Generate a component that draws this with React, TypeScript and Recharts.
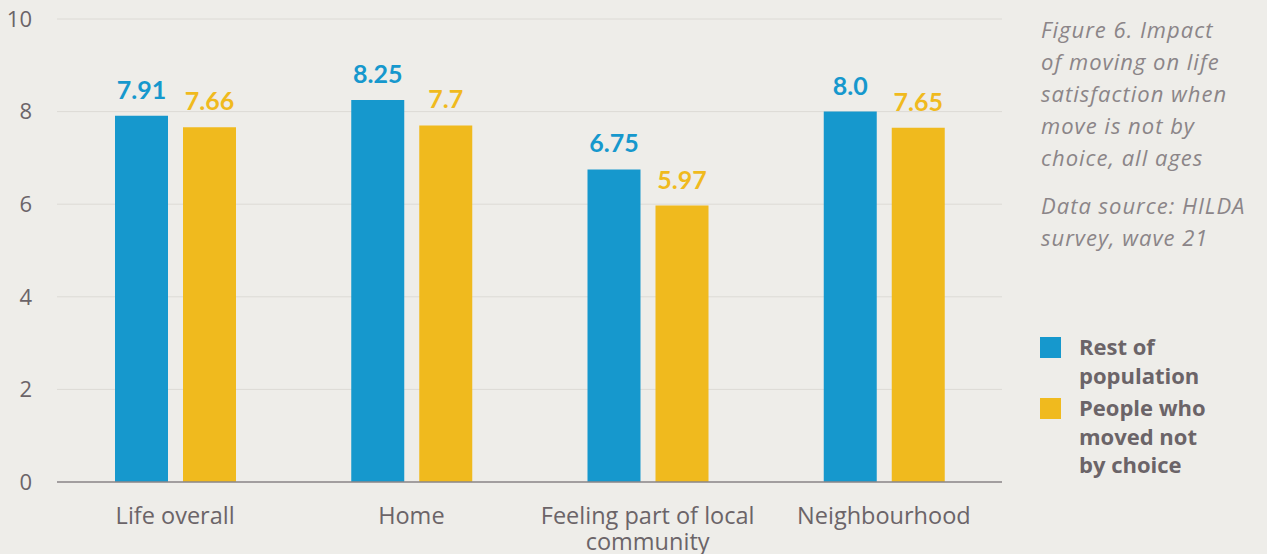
import React from "react";
import { BarChart, Bar, XAxis, YAxis, CartesianGrid, LabelList, Text } from "recharts";

const categories = ["Life overall", "Home", "Feeling part of local community", "Neighbourhood"];
const restOfPopulation = [7.91, 8.25, 6.75, 8.0];
const movedNotByChoice = [7.66, 7.7, 5.97, 7.65];
const restLabels = ["7.91", "8.25", "6.75", "8.0"];
const movedLabels = ["7.66", "7.7", "5.97", "7.65"];
const yTicks = [0, 2, 4, 6, 8, 10];
const seriesNames = ["Rest of population", "People who moved not by choice"];
const legendLines = [["Rest of", "population"], ["People who", "moved not", "by choice"]];
const captionParas = [
  ["Figure 6. Impact", "of moving on life", "satisfaction when", "move is not by", "choice, all ages"],
  ["Data source: HILDA", "survey, wave 21"],
];

const BLUE = "#1698cd";
const YELLOW = "#f0ba1e";
const TEXT = "#6b6468";
const FONT = "'Open Sans', Lato, sans-serif";
const LFONT = "Lato, sans-serif";

const data = categories.map((c, i) => ({
  name: c,
  rest: restOfPopulation[i],
  moved: movedNotByChoice[i],
  restLabel: restLabels[i],
  movedLabel: movedLabels[i],
}));

const XTick = (props: any) => {
  const { x, y, payload } = props;
  return (
    <Text
      x={x}
      y={y}
      width={232}
      textAnchor="middle"
      verticalAnchor="start"
      lineHeight={26}
      fill={TEXT}
      fontSize={23.5}
      fontFamily={FONT}
      style={{ fontSize: 23.5, fontFamily: FONT }}
    >
      {payload.value}
    </Text>
  );
};

const LegendBlock = () => (
  <div
    style={{
      position: "absolute",
      left: 1040,
      top: 337,
      width: 227,
      fontFamily: FONT,
      fontWeight: 700,
      fontSize: 22,
      color: TEXT,
    }}
  >
    {legendLines.map((lines, i) => (
      <div key={i} style={{ display: "flex", alignItems: "flex-start", marginBottom: 9 }}>
        <div
          style={{
            width: 21,
            height: 21,
            background: i === 0 ? BLUE : YELLOW,
            marginRight: 18,
            flexShrink: 0,
          }}
        />
        <div style={{ lineHeight: "28.5px", marginTop: -5 }}>
          {lines.map((l, j) => (
            <div key={j} title={j === 0 ? seriesNames[i] : undefined} style={{ whiteSpace: "nowrap" }}>{l}</div>
          ))}
        </div>
      </div>
    ))}
  </div>
);

export default function App() {
  return (
    <div
      style={{
        position: "absolute",
        left: 0,
        top: 0,
        width: 1267,
        height: 554,
        background: "#eeede9",
        overflow: "hidden",
      }}
    >
      <BarChart
        width={1267}
        height={554}
        data={data}
        margin={{ top: 19, right: 265, bottom: 0, left: 0 }}
        barSize={53}
        barGap={15}
      >
        <CartesianGrid vertical={false} stroke="#dcdad5" strokeWidth={1} />
        <XAxis
          dataKey="name"
          height={72}
          axisLine={{ stroke: "#8b878a", strokeWidth: 1.7 }}
          tickLine={false}
          tickMargin={19}
          interval={0}
          tick={<XTick />}
        />
        <YAxis
          width={57}
          domain={[0, 10]}
          ticks={yTicks}
          axisLine={false}
          tickLine={false}
          tickSize={0}
          tickMargin={25}
          tick={{ fill: TEXT, fontSize: 22, fontFamily: FONT }}
        />
        <Bar dataKey="rest" name={seriesNames[0]} fill={BLUE} isAnimationActive={false}>
          <LabelList
            dataKey="restLabel"
            position="top"
            offset={17}
            fill={BLUE}
            fontSize={25}
            fontWeight={700}
            fontFamily={LFONT}
          />
        </Bar>
        <Bar dataKey="moved" name={seriesNames[1]} fill={YELLOW} isAnimationActive={false}>
          <LabelList
            dataKey="movedLabel"
            position="top"
            offset={17}
            fill={YELLOW}
            fontSize={25}
            fontWeight={700}
            fontFamily={LFONT}
          />
        </Bar>
      </BarChart>
      <LegendBlock />
      <div
        style={{
          position: "absolute",
          left: 1041,
          top: 13,
          width: 226,
          fontFamily: FONT,
          fontStyle: "italic",
          fontSize: 22,
          letterSpacing: 1,
          color: "#8b8588",
          lineHeight: "32px",
        }}
      >
        {captionParas.map((p, i) => (
          <div key={i} style={{ marginBottom: 16 }}>
            {p.map((l, j) => (
              <div key={j} style={{ whiteSpace: "nowrap" }}>{l}</div>
            ))}
          </div>
        ))}
      </div>
    </div>
  );
}
